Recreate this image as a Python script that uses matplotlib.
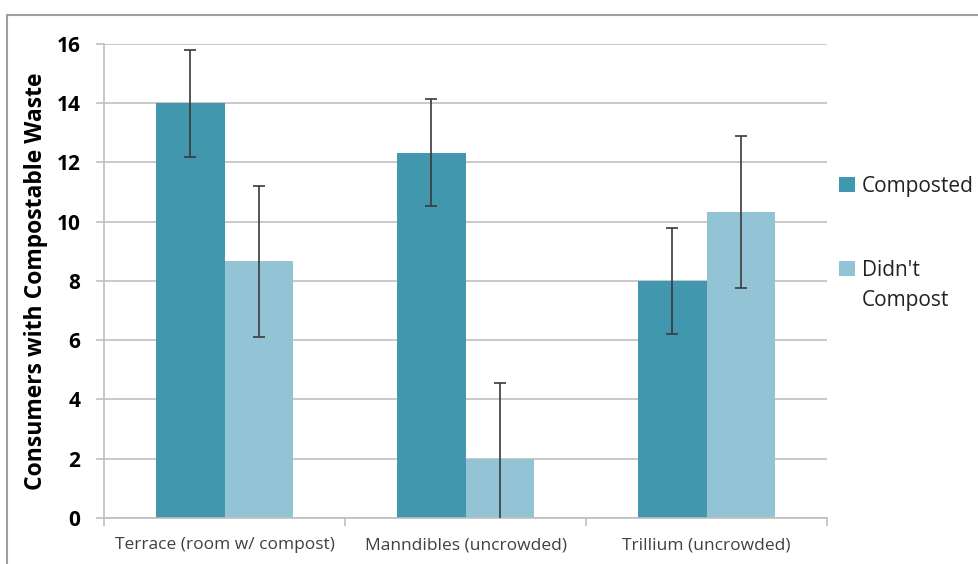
import numpy as np
import matplotlib.pyplot as plt
from matplotlib.patches import Rectangle

plt.rcParams['font.family'] = ['Open Sans', 'DejaVu Sans']

categories = ['Terrace (room w/ compost)', 'Manndibles (uncrowded)', 'Trillium (uncrowded)']
composted = [14.0, 12.33, 8.0]
composted_err = [1.8, 1.8, 1.78]
not_composted = [8.67, 2.0, 10.33]
not_composted_err = [2.55, 2.56, 2.57]

fig = plt.figure(figsize=(9.79, 5.64), dpi=100)
ax = fig.add_axes([0.1062, 0.0816, 0.7388, 0.8404])

x = np.arange(len(categories))
w = 0.285
ax.bar(x - w / 2, composted, w, color='#4198ae', label='Composted', zorder=2)
ax.bar(x + w / 2, not_composted, w, color='#93c4d6', label="Didn't", zorder=2)
ax.errorbar(x - w / 2, composted, yerr=composted_err, fmt='none', ecolor='#3a3a3a',
            elinewidth=1.2, capsize=4.5, capthick=1.2, zorder=3)
ax.errorbar(x + w / 2, not_composted, yerr=not_composted_err, fmt='none', ecolor='#3a3a3a',
            elinewidth=1.2, capsize=4.5, capthick=1.2, zorder=3)

ax.set_xlim(-0.5, 2.5)
ax.set_ylim(0, 16)
ax.set_yticks(range(0, 17, 2))
ax.set_yticklabels([str(v) for v in range(0, 17, 2)], fontsize=15, fontweight='bold')
ax.yaxis.grid(True, color='#c0c0c0', lw=1.2, zorder=0)
ax.set_axisbelow(True)

# category labels between boundary ticks
ax.set_xticks([-0.5, 0.5, 1.5, 2.5])
ax.set_xticklabels([])
ax.set_xticks(x, minor=True)
ax.set_xticklabels(categories, minor=True, fontsize=12.5, color='#404040')
ax.tick_params(axis='x', which='minor', length=0, pad=14)
ax.tick_params(axis='x', which='major', length=6, color='#bfbfbf', width=1.2)
ax.tick_params(axis='y', length=6, color='#bfbfbf', width=1.2, pad=11)

for s in ['top', 'right']:
    ax.spines[s].set_visible(False)
for s in ['left', 'bottom']:
    ax.spines[s].set_color('#bfbfbf')
    ax.spines[s].set_linewidth(1.2)

ax.set_ylabel('Consumers with Compostable Waste', fontsize=16.5, fontweight='bold', labelpad=6)

leg = fig.legend(loc='upper left', bbox_to_anchor=(0.838, 0.721), frameon=False,
                 fontsize=15, handlelength=0.75, handleheight=0.75, handletextpad=0.35,
                 labelspacing=3.0)
for t in leg.get_texts():
    t.set_color('#222222')

# second line of the "Didn't Compost" entry, like Excel's wrapped legend label
fig.canvas.draw()
bb = leg.get_texts()[1].get_window_extent().transformed(fig.transFigure.inverted())
fig.text(bb.x0, bb.y0 - 30 / 564, 'Compost', fontsize=15, color='#222222',
         ha='left', va='bottom')

fig.patches.append(Rectangle((7 / 979, -0.05), 1.2, 1 - 15 / 564 + 0.05, transform=fig.transFigure,
                             fill=False, edgecolor='#a0a0a0', lw=1.5))

fig.savefig('out.png', dpi=100)
